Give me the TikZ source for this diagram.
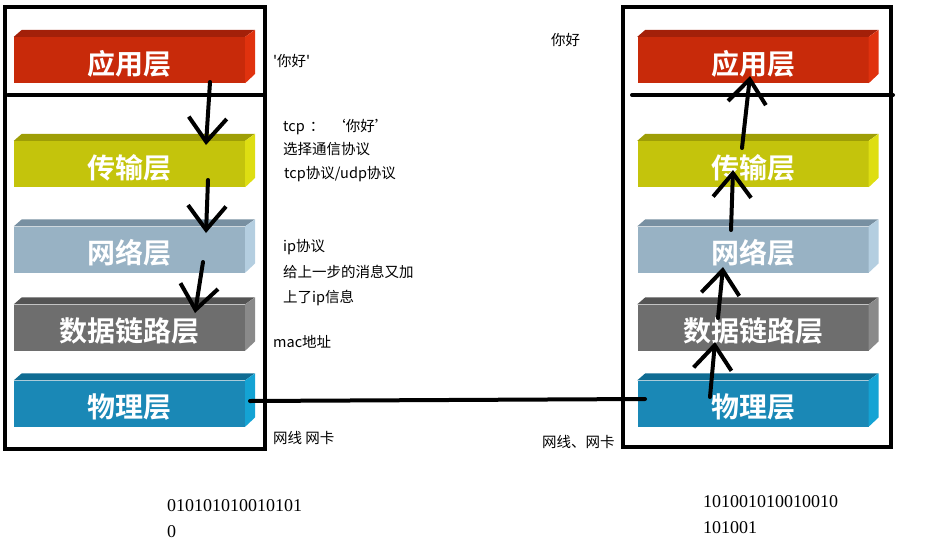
\documentclass[tikz,border=0pt]{standalone}
\usepackage{fontspec}
\usepackage{tikz}
\usetikzlibrary{positioning,arrows.meta}
\setmainfont{Liberation Serif}
\newfontfamily\cjk[Ligatures=TeXOff]{Noto Sans CJK SC}
\newfontfamily\cjkbf{Noto Sans CJK SC Bold}

\definecolor{appF}{HTML}{C82A0A}\definecolor{appT}{HTML}{A32009}\definecolor{appS}{HTML}{E0320E}
\definecolor{traF}{HTML}{C4C40C}\definecolor{traT}{HTML}{9E9E06}\definecolor{traS}{HTML}{DEDE12}
\definecolor{netF}{HTML}{98B2C4}\definecolor{netT}{HTML}{7890A2}\definecolor{netS}{HTML}{B4CEE0}
\definecolor{linF}{HTML}{6E6E6E}\definecolor{linT}{HTML}{545454}\definecolor{linS}{HTML}{8A8A8A}
\definecolor{phyF}{HTML}{1A88B6}\definecolor{phyT}{HTML}{0F6C93}\definecolor{phyS}{HTML}{14A3D4}

\begin{document}
\begin{tikzpicture}[x=1pt,y=-1pt,
  layer/.style={
   minimum width=231pt,
   minimum height=46pt,
   inner sep=0pt,
   text height=28pt,
   text depth=0pt,
   text=white,
   font=\cjkbf\fontsize{28}{28}\selectfont
  },
  note/.style={
   anchor=base west,
   inner sep=0pt,
   font=\cjk\fontsize{14.5}{14.5}\selectfont
  },
  bits/.style={
   anchor=base west,
   inner sep=0pt,
   font=\fontsize{18}{18}\selectfont
  },
  frm/.style={draw,line width=4pt},
  pen/.style={line width=4pt,line cap=round},
  hand/.style={pen,-{Straight Barb[length=24pt,width=38pt]}}]
  \useasboundingbox (0,0) rectangle (934,549);

  % both stacks
  \foreach \n/\y/\t in {app/60/应用层,tra/164/传输层,net/249.5/网络层,lin/327.5/数据链路层,phy/403.5/物理层}{
    \foreach \s/\x in {l/129.5,r/753}{
      \node[layer,fill=\n F] (\s\n) at (\x,\y) {\t};
      \fill[\n T] (\s\n.north west) -- ++(8,-7) -- ++(233,0) -- (\s\n.north east) -- cycle;
      \fill[\n S] (\s\n.north east) -- ++(10,-7) -- ++(0,44) -- (\s\n.south east) -- cycle;
    }
  }

  \draw[frm] (5,7) rectangle (265,449);
  \draw[frm] (623,7) rectangle (891,447);
  \draw[pen] (8,95) -- (265,95);
  \draw[pen] (632,95) -- (893,95);

  % sender: down
  \coordinate (d1) at (210,82);  \coordinate (d1e) at (206,145);
  \coordinate (d2) at (208,180); \coordinate (d2e) at (206,233);
  \coordinate (d3) at (203,262); \coordinate (d3e) at (195,313);
  \draw[hand] (d1) -- (d1e);
  \draw[hand] (d2) -- (d2e);
  \draw[hand] (d3) -- (d3e);

  % receiver: up
  \coordinate (u1) at (742,148); \coordinate (u1e) at (750,76);
  \coordinate (u2) at (731,230); \coordinate (u2e) at (733,170);
  \coordinate (u3) at (718,318); \coordinate (u3e) at (723,267);
  \coordinate (u4) at (710,397); \coordinate (u4e) at (715,342);
  \draw[hand] (u1) -- (u1e);
  \draw[hand] (u2) -- (u2e);
  \draw[hand] (u3) -- (u3e);
  \draw[hand] (u4) -- (u4e);

  % cable
  \coordinate (lw) at (250,401);
  \coordinate (rw) at (645,399);
  \draw[pen] (lw) -- (rw);

  \node[note] (hi) at (273,66) {'你好'};
  \node[note] (tcp) at (283,131) {tcp\hspace{5pt}：\hspace{7pt}‘你好’};
  \node[note] (sel) at (283,154) {选择通信协议};
  \node[note] (proto) at (284,178) {tcp协议/udp协议};
  \node[note] (ip) at (283,251) {ip协议};
  \node[note] (add) at (283,277) {给上一步的消息又加};
  \node[note] (addb) at (283,302) {上了ip信息};
  \node[note] (mac) at (273,347) {mac地址};
  \node[note] (nic) at (273,443) {网线 网卡};
  \node[note] (hi2) at (551,45) {你好};
  \node[note] (nic2) at (542,447) {网线、网卡};

  \node[bits] (sent) at (167,511) {010101010010101};
  \node[bits] (sentb) at (167,537) {0};
  \node[bits] (recv) at (703,507) {101001010010010};
  \node[bits] (recvb) at (703,533) {101001};
\end{tikzpicture}
\end{document}
